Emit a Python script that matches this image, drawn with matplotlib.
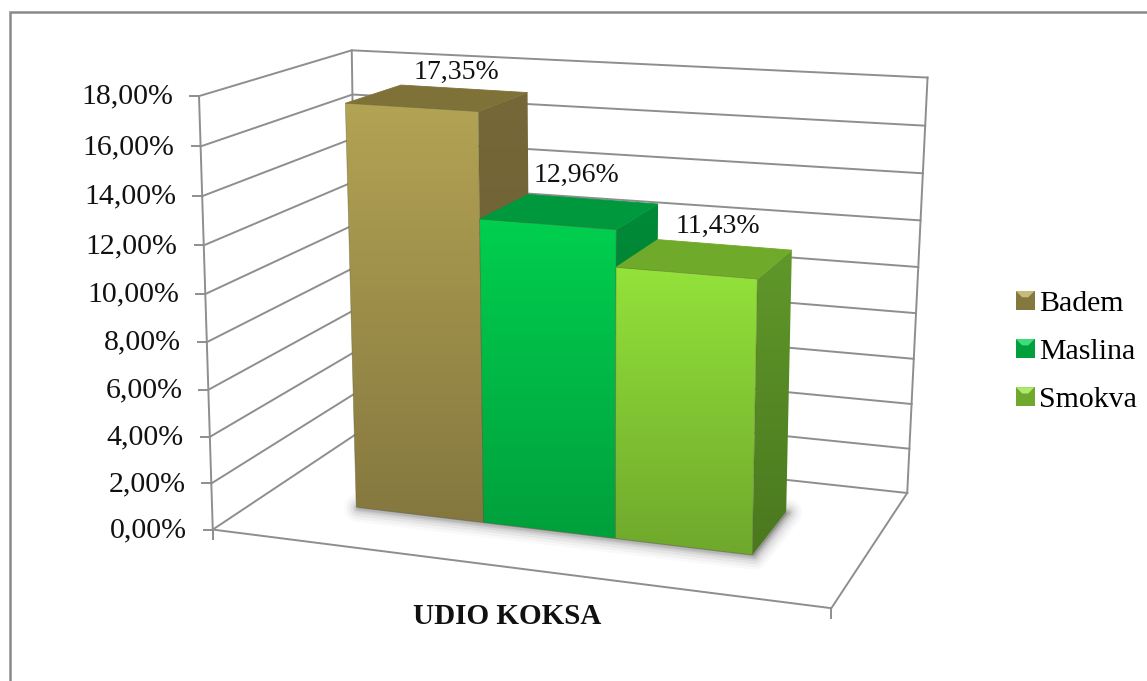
import matplotlib
matplotlib.use('Agg')
import matplotlib.pyplot as plt
import numpy as np
from matplotlib.colors import to_rgb
from matplotlib.legend_handler import HandlerBase
from matplotlib.patches import Patch, PathPatch, Polygon, Rectangle
from matplotlib.path import Path

plt.rcParams['font.family'] = ['Liberation Serif', 'DejaVu Serif']

# data
categories  = ['Badem', 'Maslina', 'Smokva']
values      = [17.35, 12.96, 11.43]
value_texts = ['17,35%', '12,96%', '11,43%']
ticks       = [0, 2, 4, 6, 8, 10, 12, 14, 16, 18]
tick_texts  = ['0,00%', '2,00%', '4,00%', '6,00%', '8,00%', '10,00%', '12,00%', '14,00%', '16,00%', '18,00%']
axis_title  = 'UDIO KOKSA'

# shades per bar: front top, front bottom, side top, side bottom, roof
shades = [('#b3a354', '#85783f', '#766838', '#655a30', '#7f7238'),
          ('#00cf4f', '#00a03c', '#008a38', '#007a30', '#00983c'),
          ('#93e23a', '#6fa82c', '#60982a', '#4a781e', '#70aa2a')]

GREY   = '#8e8e8e'
Z_TOP  = 18
BAR_X0 = 0.170
BAR_W  = 0.2215
BAR_D0 = 0.315
BAR_D1 = 0.705
LABEL_NUDGE = [(18, -25), (6, -36), (12, -32)]

# camera for the walls: box corners (x, depth, value) and their place on the canvas
box_pts = [(0, 0, 0), (0, 0, Z_TOP), (0, 1, 0), (0, 1, Z_TOP), (1, 1, 0), (1, 1, Z_TOP), (1, 0, 0)]
box_px  = [(215, 528), (197, 96), (355, 435), (354, 50), (908, 491), (927, 78), (831, 610)]

# camera for the bars, the bar perspective is slightly different from the walls in the original
_x = [BAR_X0 + BAR_W * i for i in range(4)]
bar_pts = [(_x[0], BAR_D0, 17.35), (_x[1], BAR_D0, 17.35), (_x[0], BAR_D1, 17.35), (_x[1], BAR_D1, 17.35),
           (_x[0], BAR_D0, 0), (_x[1], BAR_D0, 0), (_x[2], BAR_D0, 0), (_x[3], BAR_D0, 0), (_x[3], BAR_D1, 0),
           (_x[3], BAR_D0, 11.43), (_x[3], BAR_D1, 11.43), (_x[2], BAR_D0, 11.43),
           (_x[1], BAR_D0, 12.96), (_x[2], BAR_D0, 12.96), (_x[2], BAR_D1, 12.96), (_x[1], BAR_D1, 12.96)]
bar_px  = [(347, 104), (477, 110), (400, 85), (527, 92),
           (356, 507), (483, 523), (615, 538), (752, 556), (787, 510),
           (757, 279), (792, 252), (617, 267),
           (481, 220), (615, 229), (658, 204), (529, 195)]


def fit_camera(pts, px):
    rows = []
    for (x, d, z), (u, v) in zip(pts, px):
        rows.append([x, d, z, 1, 0, 0, 0, 0, -u * x, -u * d, -u * z, -u])
        rows.append([0, 0, 0, 0, x, d, z, 1, -v * x, -v * d, -v * z, -v])
    return np.linalg.svd(np.array(rows, float))[2][-1].reshape(3, 4)


WALL_CAM = fit_camera(box_pts, box_px)
BAR_CAM  = fit_camera(bar_pts, bar_px)


def proj(x, d, z, cam=WALL_CAM):
    h = cam @ np.array([x, d, z, 1.0])
    return h[0] / h[2], h[1] / h[2]


def bar_proj(x, d, z):
    return proj(x, d, z, BAR_CAM)


def gradient_poly(ax, corners, top, bottom, zorder):
    # vertical colour ramp clipped to a polygon
    c = np.array(corners)
    ramp = np.linspace(0, 1, 128)[:, None, None]
    rgb0, rgb1 = np.array(to_rgb(top)), np.array(to_rgb(bottom))
    img = ax.imshow(rgb0 * (1 - ramp) + rgb1 * ramp, aspect='auto', zorder=zorder,
                    extent=(c[:, 0].min(), c[:, 0].max(), c[:, 1].max(), c[:, 1].min()))
    clip = PathPatch(Path(np.vstack([c, c[0]]), closed=True), transform=ax.transData, fc='none', ec='none')
    ax.add_patch(clip)
    img.set_clip_path(clip)


class BevelHandler(HandlerBase):
    # small bevelled square for the legend keys
    def create_artists(self, legend, orig, xd, yd, width, height, fontsize, trans):
        s = height * 1.1
        x0 = -xd + (width - s) / 2
        y0 = -yd + (height - s) / 2
        b = s * 0.34
        light = tuple(0.75 * np.array(orig.get_facecolor()[:3]) + 0.25)
        base = Rectangle((x0, y0), s, s, fc=orig.get_edgecolor(), ec='none', transform=trans)
        roof = Polygon([(x0, y0 + s), (x0 + s, y0 + s), (x0 + s - b, y0 + s - b), (x0 + b, y0 + s - b)],
                       fc=light, ec='none', transform=trans)
        return [base, roof]


fig = plt.figure(figsize=(11.47, 6.81), dpi=100)
ax = fig.add_axes([0, 0, 1, 1])
ax.axis('off')

# outer frame, only top and left show in the picture
ax.plot([10, 10, 1147], [681, 12, 12], color='#8a8a8a', lw=1.8, solid_joinstyle='miter', zorder=1)

# walls and gridlines
for t in ticks:
    a, b, c = proj(0, 0, t), proj(0, 1, t), proj(1, 1, t)
    ax.plot([a[0], b[0], c[0]], [a[1], b[1], c[1]], color=GREY, lw=1.4, zorder=2)
    ax.plot([a[0] - 9, a[0]], [a[1], a[1]], color=GREY, lw=1.4, zorder=2)
for corner in [(0, 0), (0, 1), (1, 1)]:
    a, b = proj(corner[0], corner[1], 0), proj(corner[0], corner[1], Z_TOP)
    ax.plot([a[0], b[0]], [a[1], b[1]], color=GREY, lw=1.4, zorder=2)
a, b, c = proj(0, 0, 0), proj(1, 0, 0), proj(1, 1, 0)
ax.plot([a[0], b[0], c[0]], [a[1], b[1], c[1]], color=GREY, lw=1.4, zorder=2)
ax.plot([a[0], a[0]], [a[1], a[1] + 9], color=GREY, lw=1.4, zorder=2)
ax.plot([b[0], b[0]], [b[1], b[1] + 10], color=GREY, lw=1.4, zorder=2)

# tick labels
for t, txt in zip(ticks, tick_texts):
    px, py = proj(0, 0, t)
    ax.text(px - 26, py + 0.5, txt, ha='right', va='center', fontsize=21.5, color='#111111', zorder=6)

# soft shadow under the whole bar group
x_end = BAR_X0 + BAR_W * len(values)
foot = [bar_proj(BAR_X0, BAR_D0, 0), bar_proj(x_end, BAR_D0, 0), bar_proj(x_end, BAR_D1, 0), bar_proj(BAR_X0, BAR_D1, 0)]
foot = [(u + 2, v + 1) for u, v in foot]
for lw, alpha in zip([20, 16, 12, 8, 5, 3], [0.04, 0.06, 0.09, 0.12, 0.16, 0.2]):
    ax.add_patch(Polygon(foot, closed=True, fc='#777777', ec='#777777', lw=lw, alpha=alpha, zorder=3, joinstyle='round'))

# bars, left to right so the next one covers the side of the previous one
for i, (val, txt, shade) in enumerate(zip(values, value_texts, shades)):
    x0, x1 = BAR_X0 + BAR_W * i, BAR_X0 + BAR_W * (i + 1)
    z = 4 + i * 0.1
    side = [bar_proj(x1, BAR_D0, val), bar_proj(x1, BAR_D1, val), bar_proj(x1, BAR_D1, 0), bar_proj(x1, BAR_D0, 0)]
    front = [bar_proj(x0, BAR_D0, val), bar_proj(x1, BAR_D0, val), bar_proj(x1, BAR_D0, 0), bar_proj(x0, BAR_D0, 0)]
    roof = [bar_proj(x0, BAR_D0, val), bar_proj(x1, BAR_D0, val), bar_proj(x1, BAR_D1, val), bar_proj(x0, BAR_D1, val)]
    gradient_poly(ax, side, shade[2], shade[3], z)
    ax.add_patch(Polygon(roof, closed=True, fc=shade[4], ec=shade[4], lw=0.6, zorder=z + 0.01))
    gradient_poly(ax, front, shade[0], shade[1], z + 0.02)
    ax.add_patch(Polygon(front, closed=True, fc='none', ec='#5a5a30', lw=0.5, alpha=0.5, zorder=z + 0.03))

    tx, ty = bar_proj((x0 + x1) / 2, (BAR_D0 + BAR_D1) / 2, val)
    nudge = LABEL_NUDGE[i]
    ax.text(tx + nudge[0], ty + nudge[1], txt, ha='center', va='center', fontsize=20, color='#111111', zorder=6)

ax.text(507.5, 616, axis_title, ha='center', va='center', fontsize=21, fontweight='bold', color='#111111', zorder=6)

# legend
handles = [Patch(facecolor=s[0], edgecolor=s[1], label=c) for s, c in zip(shades, categories)]
leg = ax.legend(handles=handles, handler_map={Patch: BevelHandler()}, frameon=False,
                loc='center left', bbox_to_anchor=(1017 / 1147, 1 - 352 / 681), fontsize=21.5,
                handlelength=0.55, handleheight=0.5, handletextpad=0.2, labelspacing=0.74,
                borderpad=0, borderaxespad=0)
leg.set_zorder(6)

ax.set_xlim(0, 1147)
ax.set_ylim(681, 0)
fig.savefig('out.png', dpi=100)
